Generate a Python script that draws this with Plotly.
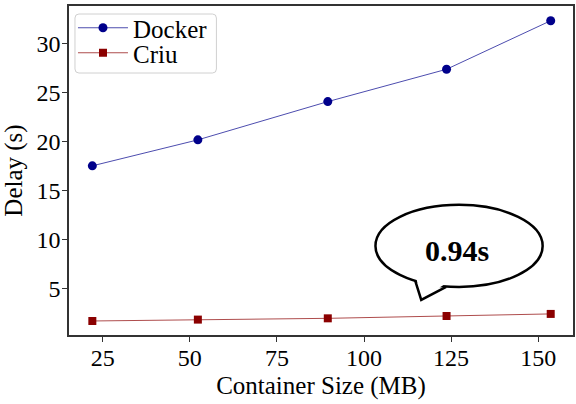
import plotly.graph_objects as go

# Data
sizes = [22.0, 52.3, 89.6, 123.7, 153.6]
docker_delay = [17.55, 20.2, 24.1, 27.4, 32.35]
criu_delay = [1.73, 1.87, 2.0, 2.24, 2.45]
x_ticks = [25, 50, 75, 100, 125, 150]
y_ticks = [5, 10, 15, 20, 25, 30]
callout_text = "0.94s"

FONT = "Liberation Serif"
W, H = 576, 404
ML, MR, MT, MB = 69, 1, 6, 69
PW, PH = W - ML - MR, H - MT - MB

fig = go.Figure()
fig.add_trace(go.Scatter(
    x=sizes, y=docker_delay, mode="lines+markers", name="Docker", legend="legend",
    line=dict(color="rgba(0,0,139,0.7)", width=1),
    marker=dict(symbol="circle", size=9, color="#00008B"),
))
fig.add_trace(go.Scatter(
    x=sizes, y=criu_delay, mode="lines+markers", name="Criu", legend="legend2",
    line=dict(color="rgba(139,0,0,0.7)", width=1),
    marker=dict(symbol="square", size=8, color="#8B0000"),
))

# pixel -> data helpers for the callout (x: 3.5 px/unit, 0 at 15.5 px; y: 9.8 px/unit, 0 at 338 px)
def px_x(p):
    return (p - 15.5) / 3.5

def px_y(p):
    return (338 - p) / 9.8

# pixel -> paper helpers
def pp_x(p):
    return (p - ML) / PW

def pp_y(p):
    return 1 - (p - MT) / PH

# legend frame (rounded rectangle)
lx0, lx1, ly0, ly1, r = 75, 217, 14, 73, 4
rx, ry = r / PW, r / PH
X0, X1, Y0, Y1 = pp_x(lx0), pp_x(lx1), pp_y(ly1), pp_y(ly0)
frame_path = (f"M {X0+rx},{Y1} L {X1-rx},{Y1} Q {X1},{Y1} {X1},{Y1-ry} "
              f"L {X1},{Y0+ry} Q {X1},{Y0} {X1-rx},{Y0} L {X0+rx},{Y0} "
              f"Q {X0},{Y0} {X0},{Y0+ry} L {X0},{Y1-ry} Q {X0},{Y1} {X0+rx},{Y1} Z")

shapes = [
    dict(type="path", xref="paper", yref="paper", path=frame_path,
         fillcolor="rgba(255,255,255,0.85)", line=dict(color="#d0d0d0", width=1), layer="above"),
    dict(type="circle", xref="x", yref="y",
         x0=px_x(377), x1=px_x(545), y0=px_y(287), y1=px_y(205),
         fillcolor="white", line=dict(color="black", width=2.5), layer="above"),
    dict(type="path", xref="x", yref="y",
         path=f"M {px_x(418)},{px_y(278)} L {px_x(423)},{px_y(299)} L {px_x(447)},{px_y(284)} Z",
         fillcolor="white", line=dict(width=0), layer="above"),
    dict(type="path", xref="x", yref="y",
         path=f"M {px_x(417)},{px_y(281)} L {px_x(423)},{px_y(300)} L {px_x(448)},{px_y(287)}",
         fillcolor="rgba(0,0,0,0)", line=dict(color="black", width=2.5), layer="above"),
]

leg_common = dict(xanchor="left", yanchor="middle", bgcolor="rgba(0,0,0,0)", borderwidth=0,
                  font=dict(size=25, family=FONT, color="black"), itemwidth=50)

fig.update_layout(
    width=W, height=H,
    margin=dict(l=ML, r=MR, t=MT, b=MB),
    paper_bgcolor="white", plot_bgcolor="white",
    font=dict(family=FONT, size=24, color="black"),
    showlegend=True,
    legend=dict(x=pp_x(73), y=pp_y(28), **leg_common),
    legend2=dict(x=pp_x(73), y=pp_y(53), **leg_common),
    shapes=shapes,
    annotations=[dict(x=px_x(459), y=px_y(251), xref="x", yref="y",
                      text=f"<b>{callout_text}</b>", showarrow=False,
                      font=dict(family=FONT, size=30, color="black"))],
)
fig.update_xaxes(
    range=[15.3, 160.0], tickvals=x_ticks, ticks="outside", ticklen=5, tickwidth=1.2,
    tickcolor="#333", showline=True, linecolor="#333", linewidth=1.5, mirror=True,
    showgrid=False, zeroline=False,
    title=dict(text="Container Size (MB)", font=dict(size=25, family=FONT, color="black"), standoff=7),
    tickfont=dict(size=24, family=FONT, color="black"), ticklabelstandoff=-5,
)
fig.update_yaxes(
    range=[0.3, 33.85], tickvals=y_ticks, ticks="outside", ticklen=5, tickwidth=1.2,
    tickcolor="#333", showline=True, linecolor="#333", linewidth=1.5, mirror=True,
    showgrid=False, zeroline=False,
    title=dict(text="Delay (s)", font=dict(size=25, family=FONT, color="black"), standoff=7),
    tickfont=dict(size=24, family=FONT, color="black"), ticklabelstandoff=-3,
)

fig.write_html("out.html", config={"displayModeBar": False},
               post_script="document.body.style.margin='0';document.body.style.padding='0';")
